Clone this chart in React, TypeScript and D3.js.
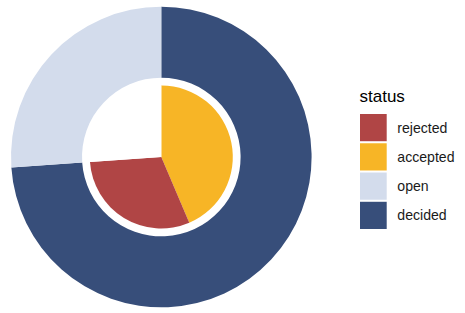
import React from "react";
import * as d3 from "d3";

const outerCategories = ["decided", "open"];
const outerValues = [73.9, 26.1];
const innerCategories = ["accepted", "rejected", "open"];
const innerValues = [43.6, 30.3, 26.1];
const legendLabels = ["rejected", "accepted", "open", "decided"];

const colors: Record<string, string> = {
  rejected: "#B04545",
  accepted: "#F7B526",
  open: "#D3DCEC",
  decided: "#374E7A",
};

const W = 465;
const H = 313;
const cx = 161.3;
const cy = 157;
const font = "'Liberation Sans', Arial, Helvetica, sans-serif";

export default function App() {
  const pie = d3
    .pie<number>()
    .sort(null)
    .value((d) => d)
    .startAngle(0)
    .endAngle(2 * Math.PI);
  const outerArcs = pie(outerValues);
  const innerArcs = pie(innerValues);
  const outerArc = d3.arc<d3.PieArcDatum<number>>().innerRadius(79.3).outerRadius(150.3);
  const innerArc = d3.arc<d3.PieArcDatum<number>>().innerRadius(0).outerRadius(71.5);

  const keyY = d3.scaleBand<string>().domain(legendLabels).range([114, 229]).paddingInner(0.07);

  return (
    <div style={{ position: "absolute", left: 0, top: 0 }}>
      <svg width={W} height={H} style={{ display: "block", background: "#fff" }}>
        <g transform={`translate(${cx},${cy})`}>
          {outerArcs.map((a, i) => (
            <path key={"o" + i} d={outerArc(a) || ""} fill={colors[outerCategories[i]]} />
          ))}
          {innerArcs.map((a, i) => (
            <path
              key={"i" + i}
              d={innerArc(a) || ""}
              fill={innerCategories[i] === "open" ? "#FFFFFF" : colors[innerCategories[i]]}
            />
          ))}
        </g>
        <text x={359.5} y={102} fontFamily={font} fontSize={17} fill="#000">
          status
        </text>
        {legendLabels.map((l) => {
          const y = keyY(l)!;
          const h = keyY.bandwidth();
          return (
            <g key={l}>
              <rect x={360} y={y} width={26.7} height={h} fill={colors[l]} />
              <text
                x={397.3}
                y={y + h / 2}
                dy="0.35em"
                fontFamily={font}
                fontSize={14.1}
                fill="#1a1a1a"
              >
                {l}
              </text>
            </g>
          );
        })}
      </svg>
    </div>
  );
}
